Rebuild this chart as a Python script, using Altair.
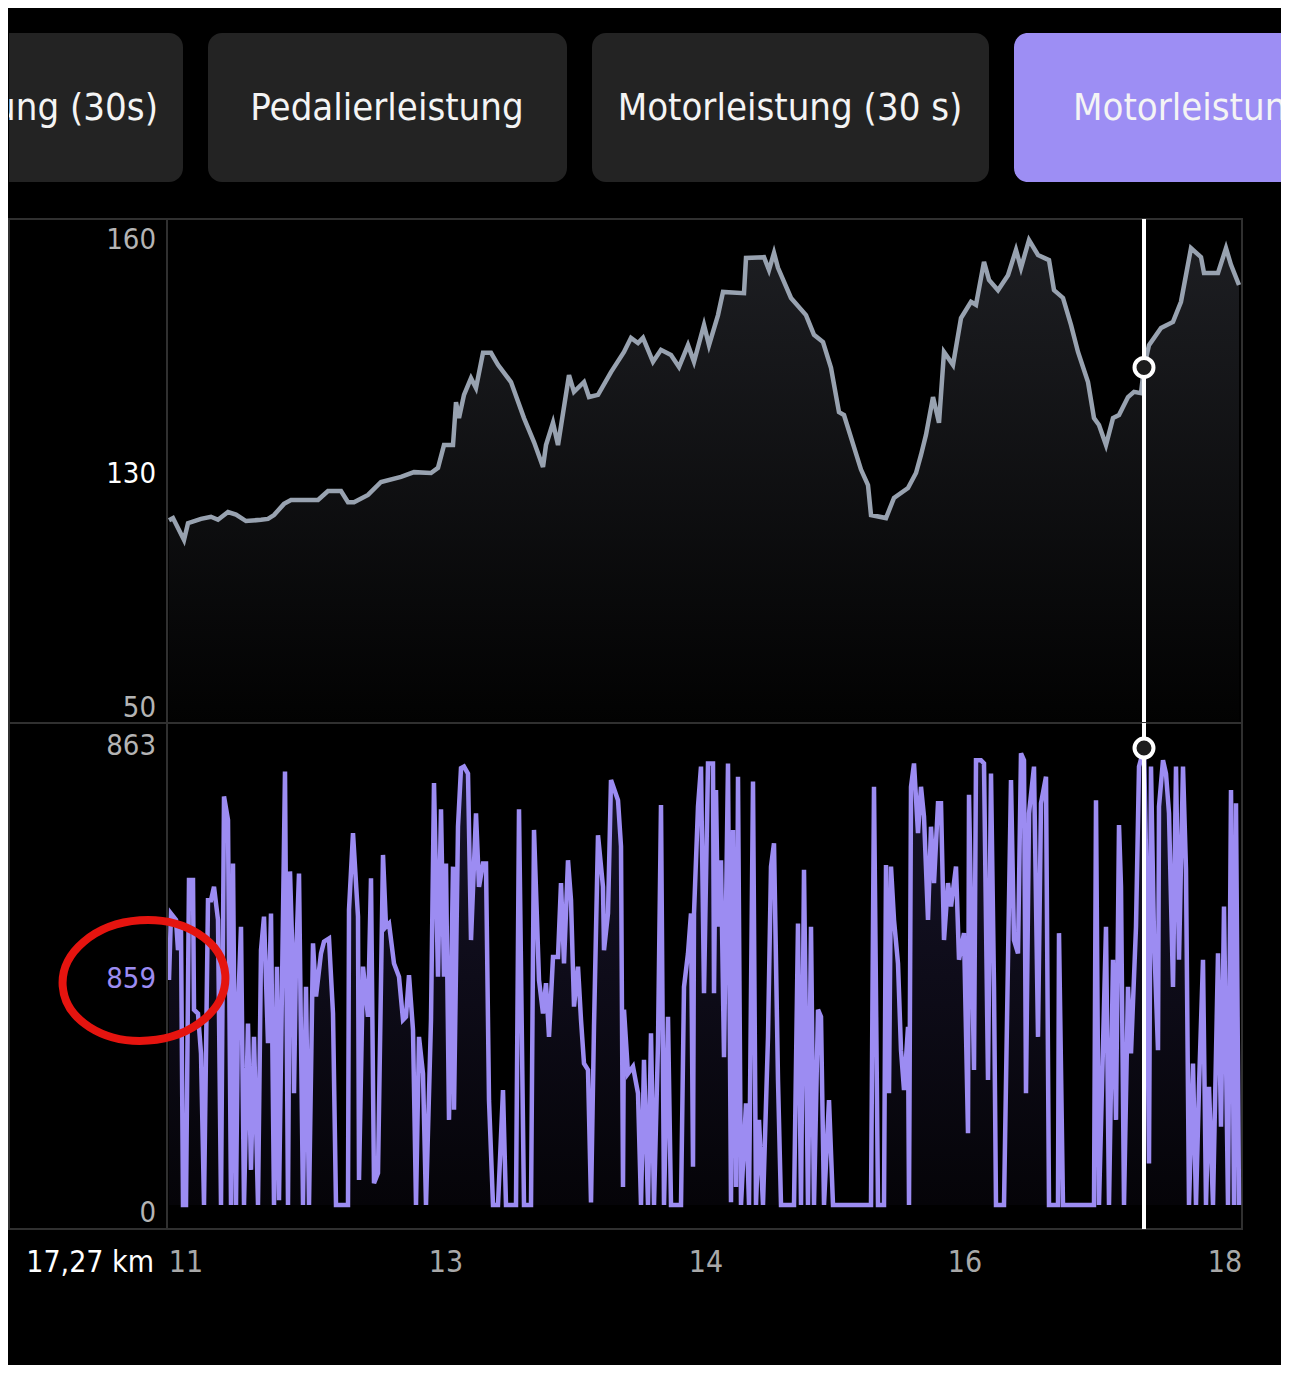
import altair as alt
import pandas as pd

# ---------------- data ----------------
# sample position along the ride (index), elevation in m
elev_pos = [1, 5, 16, 20, 33, 43, 50, 60, 68, 78, 93, 100, 106, 116, 123, 150, 160, 173, 180, 186,
            200, 213, 233, 246, 263, 270, 276, 285, 288, 291, 296, 303, 308, 315, 323, 330, 343, 356,
            366, 375, 378, 385, 390, 401, 406, 416, 421, 430, 443, 456, 463, 470, 475, 485, 493, 503,
            511, 520, 526, 536, 541, 550, 555, 576, 578, 596, 601, 606, 610, 623, 638, 646, 655, 663,
            671, 676, 693, 700, 703, 718, 726, 740, 748, 753, 758, 765, 771, 776, 785, 793, 803, 808,
            816, 821, 830, 840, 848, 853, 861, 870, 881, 886, 895, 903, 910, 920, 926, 931, 938, 945,
            951, 960, 966, 973, 976, 981, 993, 1005, 1013, 1023, 1033, 1036, 1050, 1058, 1063, 1071]
elev_m = [94.7, 95.2, 90.1, 94.0, 95.0, 95.5, 94.8, 96.6, 96.0, 94.5, 94.8, 95.0, 95.9, 98.5, 99.4,
          99.4, 101.5, 101.5, 98.9, 98.9, 100.6, 103.6, 104.8, 105.9, 105.7, 106.9, 112.2, 112.2,
          122.2, 118.5, 123.9, 127.8, 125.5, 133.7, 133.7, 130.9, 126.9, 118.5, 112.9, 107.1, 112.2,
          117.4, 112.2, 128.5, 124.6, 126.9, 123.4, 123.9, 129.2, 133.9, 137.2, 136.0, 137.2, 131.6,
          134.4, 133.2, 130.4, 135.5, 131.6, 140.2, 135.5, 142.5, 147.9, 147.6, 155.8, 156.0, 153.0,
          157.0, 153.5, 146.5, 142.5, 137.9, 136.2, 130.2, 119.9, 119.2, 106.5, 102.9, 95.9, 95.2,
          99.9, 102.2, 105.7, 109.9, 114.6, 123.4, 117.4, 133.9, 130.9, 141.8, 145.6, 144.9, 154.9,
          150.7, 148.3, 151.8, 157.7, 153.5, 160.0, 156.5, 155.3, 148.3, 146.5, 140.2, 133.9, 126.9,
          118.5, 116.9, 112.2, 118.5, 119.2, 123.4, 124.6, 124.3, 130.3, 135.5, 139.5, 140.9, 145.6,
          158.1, 156.0, 152.3, 152.3, 158.1, 154.2, 149.5]

# motor power in W
power_pos = [1, 3, 8, 10, 13, 15, 18, 21, 25, 26, 30, 33, 36, 40, 43, 46, 50, 53, 56, 60, 63, 65, 68,
             70, 73, 76, 80, 83, 86, 90, 93, 96, 100, 103, 106, 109, 111, 117, 120, 122, 125, 126, 128,
             131, 135, 138, 141, 145, 148, 153, 156, 161, 165, 168, 173, 180, 181, 185, 190, 191, 195,
             200, 203, 206, 210, 215, 218, 221, 226, 231, 235, 238, 241, 245, 248, 251, 255, 258,
             263, 266, 270, 273, 276, 278, 281, 285, 286, 290, 293, 296, 300, 303, 308, 311, 315, 318,
             321, 325, 330, 335, 338, 348, 351, 356, 363, 366, 371, 375, 378, 381, 385, 390, 393, 396,
             400, 403, 406, 410, 413, 416, 420, 423, 426, 430, 435, 436, 440, 443, 450, 453, 455, 456,
             460, 465, 470, 473, 476, 480, 483, 486, 490, 493, 496, 500, 503, 513, 516, 520, 523, 525,
             526, 530, 533, 536, 540, 545, 546, 548, 550, 553, 556, 560, 563, 565, 568, 570, 573, 578,
             581, 585, 588, 591, 595, 600, 603, 606, 610, 613, 626, 630, 633, 636, 640, 643, 646, 650,
             653, 656, 661, 665, 693,
             703, 706, 710, 716, 718, 721, 723, 726, 730, 733, 736, 740, 741, 743, 746, 750, 753, 756,
             760, 763, 766, 770, 773, 776, 780, 783, 788, 791, 796, 800, 801, 806, 808, 813, 816, 820,
             823, 826, 828, 836, 840, 843, 846, 850, 853, 856, 858, 861, 866, 870, 873, 878, 881, 890,
             891, 895, 926, 928, 931, 938, 941, 945, 948, 951, 953, 956, 960, 963, 968, 971, 976, 978,
             981, 983, 986, 990, 991, 995, 998, 1001, 1005, 1008, 1011, 1015, 1018, 1021, 1025, 1028,
             1031, 1035, 1038, 1041, 1045, 1050, 1053, 1056, 1060, 1063, 1066, 1068, 1071]
power_w = [423, 548, 536, 479, 520, 0, 0, 611, 611, 367, 360, 285, 0, 573, 573, 598, 536, 0, 768, 724,
           0, 642, 0, 367, 523, 0, 341, 66, 316, 0, 479, 542, 304, 548, 0, 448, 9, 815, 0, 627, 435,
           210, 460, 623, 0, 410, 0, 492, 392, 473, 495, 501, 360, 0, 0, 0, 555, 699, 542, 47, 448,
           354, 614, 41, 60, 658, 523, 529, 454, 429, 348, 354, 432, 329, 0, 316, 247, 0,
           348, 793, 429, 744, 429, 642, 160, 636, 179, 711, 821, 824, 811, 498, 736, 598, 642, 642,
           197, 0, 0, 216, 0, 0, 744, 0, 0, 705, 423, 360, 417, 316, 466, 466, 605, 454, 648, 573,
           373, 448, 348, 266, 254, 5, 335, 695, 598, 479, 548, 799, 761, 674, 34, 367, 247, 260, 210,
           0, 273, 0, 323, 0, 304, 752, 0, 354, 0, 0, 410, 473, 548, 72, 548, 749, 824, 398, 830, 830,
           398, 780, 523, 648, 278, 830, 5, 705, 34, 805, 0, 191, 0, 796, 0, 160, 0, 316, 636, 680,
           235, 0, 0, 529, 0, 630, 0, 523, 0, 367, 354, 0, 197, 0, 0,
           0, 786, 0, 0, 639, 210, 636, 536, 454, 291, 216, 335, 0, 786, 830, 699, 786, 730, 536,
           711, 605, 755, 755, 498, 605, 561, 636, 461, 511, 135, 771, 254, 836, 836, 830, 235, 811,
           410, 0, 0, 461, 799, 498, 473, 849, 836, 210, 736, 824, 316, 755, 805, 0, 0, 511, 0, 0,
           761, 0, 523, 0, 461, 160, 714, 598, 0, 410, 285, 523, 824, 859, 661, 78, 824, 504, 291,
           749, 836, 811, 736, 410, 824, 461, 824, 630, 0, 266, 0, 222, 461, 0, 222, 0, 473, 147,
           561, 0, 780, 0, 755, 0]

tab_labels = ["Pedalierleistung (30s)", "Pedalierleistung", "Motorleistung (30 s)", "Motorleistung"]
tick_pos = [18, 278, 538, 797, 1057]
tick_labels = ["11", "13", "14", "16", "18"]
elev_label_vals = [160, 105, 50]
elev_label_txt = ["160", "130", "50"]
power_label_vals = [863, 431.5, 0]
power_label_txt = ["863", "859", "0"]
cursor_pos = 976
cursor_elev = 130.3
cursor_power = 859
cursor_km = "17,27 km"

# ---------------- layout / style ----------------
FONT = "DejaVu Sans Condensed, Liberation Sans Narrow, Roboto Condensed, Roboto, sans-serif"
W_FULL = 1272
W_PANEL = 1233
H_TABS = 211
H_TOP = 504
H_BOT = 506
H_X = 136
X_DOMAIN = [-159, 1074]
TOP_DOMAIN = [47.44, 164.89]
BOT_DOMAIN = [-45.1, 906.0]
FRAME = "#303030"
PURPLE = "#9c8cf2"
GRAY_TXT = "#b4b4b4"
LABEL_X = -12

elev_df = pd.DataFrame({"pos": elev_pos, "val": elev_m})
power_df = pd.DataFrame({"pos": power_pos, "val": power_w})


def xs():
    return alt.Scale(domain=X_DOMAIN, nice=False, zero=False)


def ys(dom):
    return alt.Scale(domain=dom, nice=False, zero=False)


def X():
    return alt.X("pos:Q", scale=xs(), axis=None)


def Y(dom):
    return alt.Y("val:Q", scale=ys(dom), axis=None)


# ---------------- tabs ----------------
tab_geom = [(-40, 174, "#232323", 149, "right"),
            (199, 558, "#232323", 378, "center"),
            (583, 980, "#232323", 781, "center"),
            (1005, 1320, "#9d8ef4", 1064, "left")]
tab_layers = []
for lbl, (x0, x1, fill, tx, al) in zip(tab_labels, tab_geom):
    d = pd.DataFrame({"label": [lbl]})
    tab_layers.append(alt.Chart(d).mark_rect(cornerRadius=14, color=fill, clip=True).encode(
        x=alt.value(x0), x2=alt.value(x1), y=alt.value(25), y2=alt.value(174)))
    tab_layers.append(alt.Chart(d).mark_text(font=FONT, fontSize=38, color="#f4f4f4", align=al,
                                             baseline="middle", clip=True).encode(
        x=alt.value(tx), y=alt.value(101), text="label:N"))
tabs = alt.layer(*tab_layers).properties(width=W_FULL, height=H_TABS,
                                         view=alt.ViewBackground(strokeWidth=0))

# ---------------- top panel (elevation) ----------------
grad_top = alt.LinearGradient(gradient="linear",
                              stops=[alt.GradientStop(color="#1d1e22", offset=0),
                                     alt.GradientStop(color="#020202", offset=1)],
                              x1=0, x2=0, y1=0, y2=1)
top_area = alt.Chart(elev_df).mark_area(color=grad_top, clip=True).encode(
    x=X(), y=Y(TOP_DOMAIN), y2=alt.datum(TOP_DOMAIN[0]))
top_line = alt.Chart(elev_df).mark_line(color="#98a2b0", strokeWidth=4.5, clip=True).encode(
    x=X(), y=Y(TOP_DOMAIN))
sep_df = pd.DataFrame({"pos": [-1]})
cur_df = pd.DataFrame({"pos": [cursor_pos]})
top_sep = alt.Chart(sep_df).mark_rule(color=FRAME, strokeWidth=2).encode(x=X())
top_cur = alt.Chart(cur_df).mark_rule(color="#ffffff", strokeWidth=4).encode(x=X())
top_pt = alt.Chart(pd.DataFrame({"pos": [cursor_pos], "val": [cursor_elev]})).mark_point(
    shape="circle", size=360, filled=True, fill="#1c1c1c", stroke="#ffffff", strokeWidth=4,
    opacity=1).encode(x=X(), y=Y(TOP_DOMAIN))
top_colors = [GRAY_TXT, "#ffffff", GRAY_TXT]
top_dy = [0, -2, -4]
top_lbls = []
for v, t, c, dy in zip(elev_label_vals, elev_label_txt, top_colors, top_dy):
    top_lbls.append(alt.Chart(pd.DataFrame({"pos": [LABEL_X], "val": [v], "txt": [t]})).mark_text(
        font=FONT, fontSize=29, color=c, align="right", baseline="middle", dy=dy).encode(
        x=X(), y=Y(TOP_DOMAIN), text="txt:N"))
top = alt.layer(top_area, top_line, top_sep, top_cur, top_pt, *top_lbls).properties(
    width=W_PANEL, height=H_TOP, view=alt.ViewBackground(stroke=FRAME, strokeWidth=2))

# ---------------- bottom panel (motor power) ----------------
grad_bot = alt.LinearGradient(gradient="linear",
                              stops=[alt.GradientStop(color="#17142a", offset=0),
                                     alt.GradientStop(color="#050408", offset=1)],
                              x1=0, x2=0, y1=0, y2=1)
bot_area = alt.Chart(power_df).mark_area(color=grad_bot, clip=True).encode(
    x=X(), y=Y(BOT_DOMAIN), y2=alt.datum(0))
bot_line = alt.Chart(power_df).mark_line(color=PURPLE, strokeWidth=4.5, clip=True).encode(
    x=X(), y=Y(BOT_DOMAIN))
bot_sep = alt.Chart(sep_df).mark_rule(color=FRAME, strokeWidth=2).encode(x=X())
bot_cur = alt.Chart(cur_df).mark_rule(color="#ffffff", strokeWidth=4).encode(x=X())
bot_pt = alt.Chart(pd.DataFrame({"pos": [cursor_pos], "val": [cursor_power]})).mark_point(
    shape="circle", size=360, filled=True, fill="#1c1c1c", stroke="#ffffff", strokeWidth=4,
    opacity=1).encode(x=X(), y=Y(BOT_DOMAIN))
bot_colors = [GRAY_TXT, PURPLE, GRAY_TXT]
bot_dy = [0, 4, 8]
bot_lbls = []
for v, t, c, dy in zip(power_label_vals, power_label_txt, bot_colors, bot_dy):
    bot_lbls.append(alt.Chart(pd.DataFrame({"pos": [LABEL_X], "val": [v], "txt": [t]})).mark_text(
        font=FONT, fontSize=29, color=c, align="right", baseline="middle", dy=dy).encode(
        x=X(), y=Y(BOT_DOMAIN), text="txt:N"))
ellipse_path = "M -1 0 A 1 0.74 0 1 1 1 0 A 1 0.74 0 1 1 -1 0 Z"
red_mark = alt.Chart(pd.DataFrame({"pos": [LABEL_X - 12], "val": [power_label_vals[1]]})).mark_point(
    shape=ellipse_path, size=163 * 163, filled=False, stroke="#e5140f", strokeWidth=8, opacity=1,
    angle=356, yOffset=5).encode(x=X(), y=Y(BOT_DOMAIN))
bottom = alt.layer(bot_area, bot_line, bot_sep, bot_cur, bot_pt, *bot_lbls, red_mark).properties(
    width=W_PANEL, height=H_BOT, view=alt.ViewBackground(stroke=FRAME, strokeWidth=2))

# ---------------- x labels ----------------
tick_df = pd.DataFrame({"pos": tick_pos, "txt": tick_labels})
ticks = alt.Chart(tick_df).mark_text(font=FONT, fontSize=30, color="#a8a8a8", align="center",
                                     baseline="middle").encode(x=X(), y=alt.value(34), text="txt:N")
km = alt.Chart(pd.DataFrame({"pos": [LABEL_X - 2], "txt": [cursor_km]})).mark_text(
    font=FONT, fontSize=30, color="#ffffff", align="right", baseline="middle", fontWeight=500).encode(
    x=X(), y=alt.value(34), text="txt:N")
xlab = alt.layer(ticks, km).properties(width=W_PANEL, height=H_X,
                                       view=alt.ViewBackground(strokeWidth=0))

chart = alt.vconcat(tabs, top, bottom, xlab, spacing=0, bounds="flush").properties(
    padding=0, background="#000000").configure_view(strokeWidth=0)

chart.save("out.html", embed_options={"renderer": "svg", "actions": False})
